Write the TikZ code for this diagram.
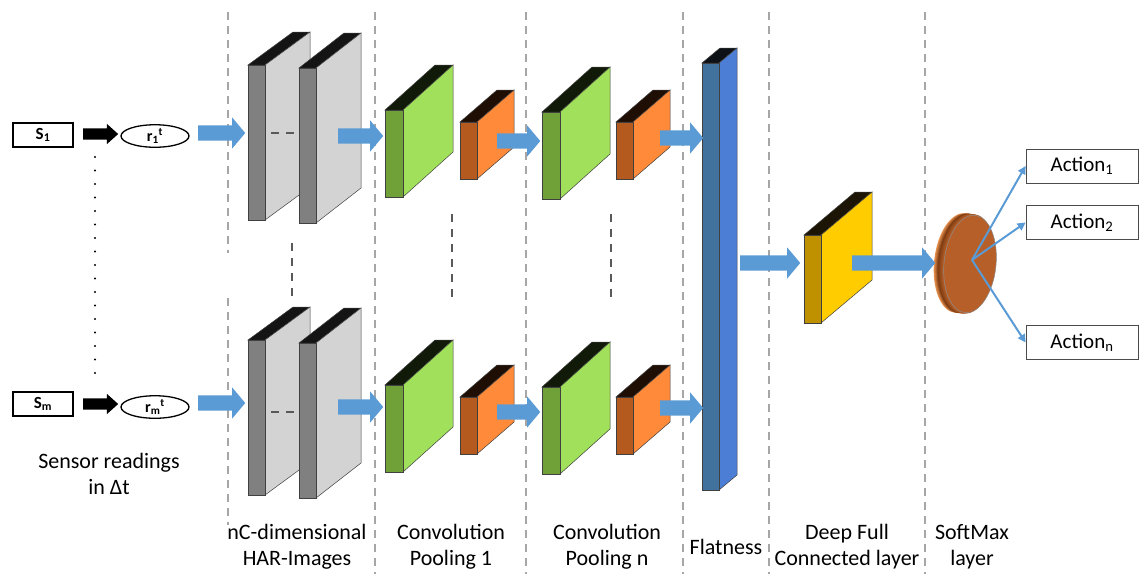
\documentclass[tikz,border=0pt]{standalone}
\usepackage{fontspec}
\setmainfont{Carlito}
\usetikzlibrary{shapes.arrows,shapes.geometric,arrows.meta}

\definecolor{arrowblue}{HTML}{5B9BD5}
\definecolor{sepgrey}{HTML}{A6A6A6}
\definecolor{dotgrey}{HTML}{595959}
\definecolor{greyfront}{HTML}{808080}
\definecolor{greyside}{HTML}{D3D3D3}
\definecolor{greytop}{HTML}{141414}
\definecolor{greenfront}{HTML}{70A038}
\definecolor{greenside}{HTML}{A0E05A}
\definecolor{greentop}{HTML}{111A08}
\definecolor{orangefront}{HTML}{B55A1E}
\definecolor{orangeside}{HTML}{FF8B3A}
\definecolor{orangetop}{HTML}{1E0E04}
\definecolor{flatfront}{HTML}{41729E}
\definecolor{flatside}{HTML}{4D7ED6}
\definecolor{flattop}{HTML}{0E1216}
\definecolor{yellowfront}{HTML}{BF9000}
\definecolor{yellowside}{HTML}{FFCC00}
\definecolor{yellowtop}{HTML}{1C1404}
\definecolor{discface}{HTML}{B75F28}
\definecolor{discedge}{HTML}{E8914F}
\definecolor{discdark}{HTML}{7E3C12}

% 3D layer block: x, y of front top-left, width, height, depth x, depth y, front, side, top
\newcommand{\layerblock}[9]{%
  \filldraw[draw=black!75, line width=0.5pt, fill=#9] (#1,#2) -- ++(#5,-#6) -- ++(#3,0) -- ++(-#5,#6) -- cycle;
  \filldraw[draw=black!75, line width=0.5pt, fill=#8] (#1+#3,#2) -- ++(#5,-#6) -- ++(0,#4) -- ++(-#5,#6) -- cycle;
  \filldraw[draw=black!75, line width=0.5pt, fill=#7] (#1,#2) rectangle ++(#3,#4);
}

\begin{document}
\begin{tikzpicture}[
    x=1pt, y=-1pt,
  bluearrow/.style={single arrow, fill=arrowblue, draw=none, inner xsep=0pt, inner ysep=7.5pt,
    single arrow head extend=8pt, single arrow tip angle=100},
  blackarrow/.style={single arrow, fill=black, draw=none, inner xsep=0pt, inner ysep=5.5pt,
    minimum height=35pt, single arrow head extend=4.5pt, single arrow tip angle=84},
  sensorbox/.style={rectangle, draw, line width=1.3pt, minimum width=60pt, minimum height=24pt,
    inner sep=0pt, font=\bfseries\fontsize{17}{19}\selectfont},
  readnode/.style={ellipse, draw, line width=1.3pt, minimum width=68pt, minimum height=22pt,
    inner sep=0pt, font=\bfseries\fontsize{16}{18}\selectfont},
  actionbox/.style={rectangle, draw=black!70, line width=0.8pt, minimum width=112pt,
    minimum height=34pt, fill=white, font=\fontsize{21}{24}\selectfont},
  layerlabel/.style={align=center, font=\fontsize{22}{26}\selectfont},
  separator/.style={sepgrey, line width=1.6pt, dash pattern=on 8pt off 6pt},
  morelayers/.style={dotgrey, line width=2pt, dash pattern=on 8pt off 7pt},
  thinarrow/.style={arrowblue, line width=2pt, -{Triangle[length=8pt,width=8pt]}}
]
\useasboundingbox (0,0) rectangle (1139,574);

% Separators
\draw[separator] (228,12) -- (228,253);
\draw[separator] (228,298) -- (228,525);
\foreach \sx in {375,526,683,769,925}
  \draw[separator] (\sx,12) -- (\sx,574);

% Sensors
\node[sensorbox] (s1) at (43,135) {S\textsubscript{1}};
\node[blackarrow] (b1) at (97.5,134) {};
\node[readnode] (r1) at (155,136) {r\textsubscript{1}\textsuperscript{t}};
\node[sensorbox] (sm) at (43,404) {S\textsubscript{m}};
\node[blackarrow] (bm) at (97.5,404) {};
\node[readnode] (rm) at (155,407) {r\textsubscript{m}\textsuperscript{t}};
\foreach \k in {0,...,16}
  \fill (95,157+13.5*\k) circle (1.1pt);
\node[layerlabel] (lsensor) at (109,474) {Sensor readings\\in Δt};

% HAR images
\layerblock{248}{65}{17}{155}{45}{33}{greyfront}{greyside}{greytop}
\layerblock{299}{68}{17}{155}{45}{35}{greyfront}{greyside}{greytop}
\draw[morelayers, line width=2.5pt] (271,133) -- (297,133);
\layerblock{248}{340}{17}{155}{45}{33}{greyfront}{greyside}{greytop}
\layerblock{299}{343}{17}{155}{45}{35}{greyfront}{greyside}{greytop}
\draw[morelayers, line width=2.5pt] (271,412) -- (297,412);
\draw[morelayers] (292,243) -- (292,298);

% Convolution and pooling
\layerblock{385}{110}{18}{87}{50}{45}{greenfront}{greenside}{greentop}
\layerblock{460}{122}{17}{57}{37}{32}{orangefront}{orangeside}{orangetop}
\layerblock{542}{112}{18}{87}{50}{45}{greenfront}{greenside}{greentop}
\layerblock{616}{122}{17}{57}{37}{32}{orangefront}{orangeside}{orangetop}
\layerblock{385}{385}{18}{87}{50}{45}{greenfront}{greenside}{greentop}
\layerblock{460}{397}{17}{57}{37}{32}{orangefront}{orangeside}{orangetop}
\layerblock{542}{387}{18}{87}{50}{45}{greenfront}{greenside}{greentop}
\layerblock{616}{397}{17}{57}{37}{32}{orangefront}{orangeside}{orangetop}
\draw[morelayers] (452,214) -- (452,300);
\draw[morelayers] (611,214) -- (611,300);

% Flatness and dense layer
\layerblock{702}{63}{17}{427}{18}{15}{flatfront}{flatside}{flattop}
\layerblock{804}{235}{17}{88}{51}{43}{yellowfront}{yellowside}{yellowtop}

% SoftMax disc
\begin{scope}[shift={(970,264)}, rotate=-6]
  \foreach \i in {10,...,7}
    \fill[discedge!\the\numexpr(\i-6)*25\relax!discdark] (-\i,0) ellipse [x radius=26pt, y radius=50pt];
  \foreach \i in {6,...,1}
    \fill[discface!\the\numexpr(6-\i)*18\relax!discdark] (-\i,0) ellipse [x radius=26pt, y radius=50pt];
  \filldraw[fill=discface, draw=black!45, line width=0.5pt] (0,0) ellipse [x radius=26pt, y radius=49pt];
\end{scope}
\coordinate (smx) at (972,260);

% Block arrows
\node[bluearrow, minimum height=47pt] (a1) at (218.5,133) {};
\node[bluearrow, minimum height=47pt] (am) at (218.5,403) {};
\node[bluearrow, minimum height=45pt] (g1) at (357.5,136) {};
\node[bluearrow, minimum height=45pt] (gm) at (357.5,407) {};
\node[bluearrow, minimum height=43pt] (p1) at (515.5,141) {};
\node[bluearrow, minimum height=43pt] (pm) at (515.5,412) {};
\node[bluearrow, minimum height=43pt] (n1) at (678.5,138) {};
\node[bluearrow, minimum height=43pt] (nm) at (678.5,408) {};
\node[bluearrow, minimum height=60pt] (fl) at (767,263) {};
\node[bluearrow, minimum height=83pt] (dn) at (890.5,263) {};

% Actions
\node[actionbox] (act1) at (1082,166) {Action\textsubscript{1}};
\node[actionbox] (act2) at (1082,222.5) {Action\textsubscript{2}};
\node[actionbox] (actn) at (1082,342.5) {Action\textsubscript{n}};
\draw[thinarrow] (smx) -- (act1.west);
\draw[thinarrow] (smx) -- (act2.west);
\draw[thinarrow] (smx) -- (actn.west);

% Layer labels
\node[layerlabel] (lhar) at (297,547) {nC-dimensional\\HAR-Images};
\node[layerlabel] (lcp1) at (451,547) {Convolution\\Pooling 1};
\node[layerlabel] (lcpn) at (607,547) {Convolution\\Pooling n};
\node[layerlabel] (lflat) at (726,547) {Flatness};
\node[layerlabel] (ldense) at (847,547) {Deep Full\\Connected layer};
\node[layerlabel] (lsoft) at (972,547) {SoftMax\\layer};

\end{tikzpicture}
\end{document}
